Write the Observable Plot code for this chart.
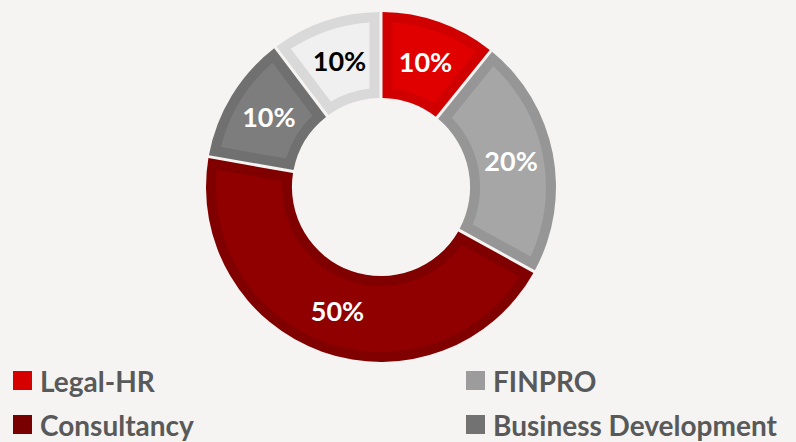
<!DOCTYPE html>
<html><head><meta charset="utf-8">
<script src="https://cdn.jsdelivr.net/npm/d3@7"></script>
<script src="https://cdn.jsdelivr.net/npm/@observablehq/plot@0.6"></script>
<style>
html,body{margin:0;padding:0;background:#f5f4f2;}
#wrap{position:relative;width:796px;height:442px;overflow:hidden;font-family:Lato,"Open Sans",sans-serif;}
#wrap svg{display:block;}
.leg{position:absolute;display:flex;align-items:center;font-weight:700;font-size:28px;line-height:28px;color:#595959;white-space:nowrap;}
.sw{width:19px;height:19px;margin-right:8px;flex:none;}
</style></head><body><div id="wrap"></div>
<script>
const categories = ["Legal-HR", "FINPRO", "Consultancy", "Business Development", "Other"];
const shares = [10.8, 22.2, 44.7, 11.9, 10.3];
const labels = ["10%", "20%", "50%", "10%", "10%"];
const fillColors = ["#e10000", "#a6a6a6", "#900000", "#7d7d7d", "#f0f0f0"];
const edgeColors = ["#d10000", "#969696", "#800000", "#707070", "#d9d9d9"];
const labelColors = ["#ffffff", "#ffffff", "#ffffff", "#ffffff", "#000000"];
const legendColors = ["#d60000", "#9c9c9c", "#780000", "#727272"];
const legendCategories = ["Legal-HR", "FINPRO", "Consultancy", "Business Development"];

const innerRatio = 0.509;
const data = categories.map((c, i) => ({category: c, share: shares[i], label: labels[i], fill: fillColors[i], edge: edgeColors[i], lc: labelColors[i]}));
const arcs = d3.pie().sort(null).value(d => d.share)(data);
const rm = (1 + innerRatio) / 2;
const labelData = arcs.map(a => {
  const m = (a.startAngle + a.endAngle) / 2;
  return {x: Math.sin(m) * rm, y: Math.cos(m) * rm, label: a.data.label, lc: a.data.lc};
});

function donut(index, scales, values, dims, context) {
  const cx = scales.x(0), cy = scales.y(0), r = scales.x(1) - cx;
  const ri = r * innerRatio;
  const g = d3.create("svg:g").attr("transform", `translate(${cx},${cy})`);
  const gap = 3, border = 10;
  const outer = d3.arc().innerRadius(ri).outerRadius(r).padRadius(r).padAngle(gap / r);
  const inner = d3.arc().innerRadius(ri + border).outerRadius(r - border).padRadius(r).padAngle((gap + 2 * border) / r);
  g.selectAll("path.o").data(arcs).join("path").attr("class", "o").attr("d", outer).attr("fill", d => d.data.edge);
  g.selectAll("path.i").data(arcs).join("path").attr("class", "i").attr("d", inner).attr("fill", d => d.data.fill);
  return g.node();
}

const chart = Plot.plot({
  width: 796, height: 365, margin: 0,
  style: {background: "#f5f4f2"},
  x: {domain: [-1, 1], range: [381 - 175, 381 + 175], axis: null},
  y: {domain: [-1, 1], range: [187 + 175, 187 - 175], axis: null},
  marks: [
    donut,
    Plot.text(labelData, {x: "x", y: "y", text: "label", fill: "lc", fontSize: 27, fontWeight: 700, fontFamily: "Lato"})
  ]
});
const wrap = document.getElementById("wrap");
wrap.appendChild(chart);

const pos = [[13, 366.5], [466, 366.5], [13, 410.5], [466, 410.5]];
legendCategories.forEach((c, i) => {
  const d = document.createElement("div");
  d.className = "leg";
  d.style.left = pos[i][0] + "px";
  d.style.top = pos[i][1] + "px";
  const s = document.createElement("span");
  s.className = "sw";
  s.style.background = legendColors[i];
  d.appendChild(s);
  d.appendChild(document.createTextNode(c));
  wrap.appendChild(d);
});
</script></body></html>
